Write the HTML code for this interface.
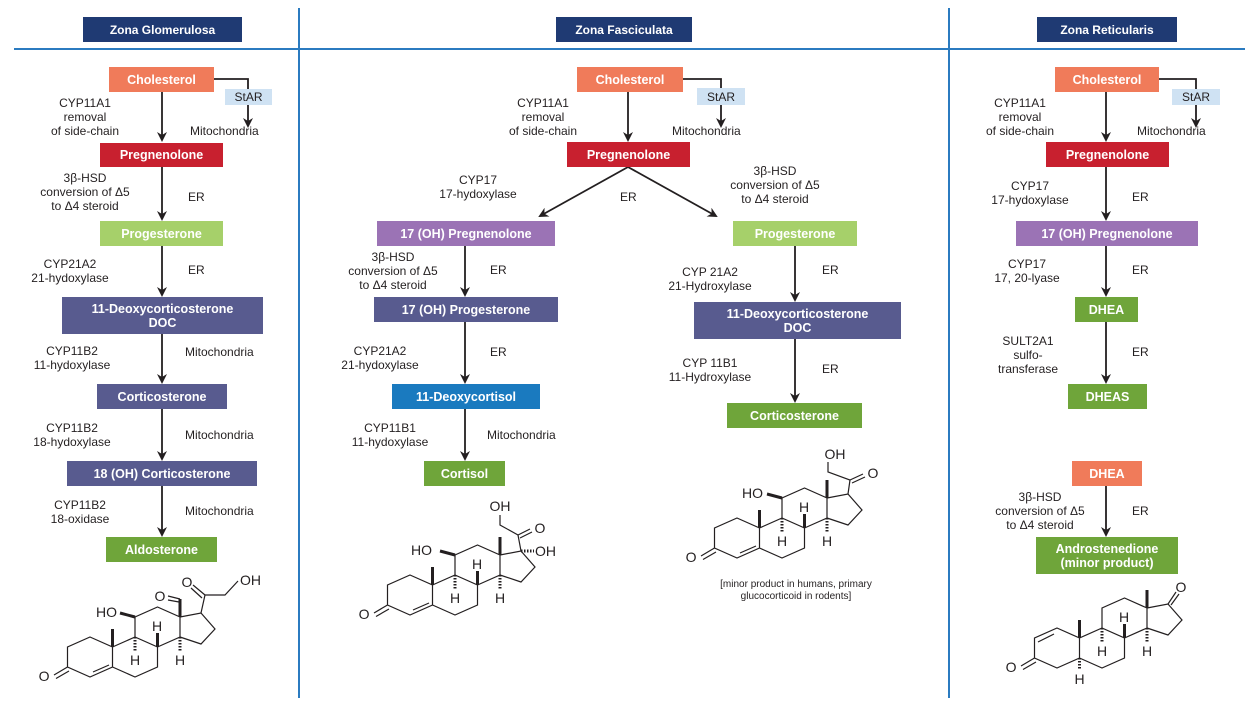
<!DOCTYPE html>
<html><head><meta charset="utf-8"><style>
body{margin:0;background:#fff;}
#c{position:relative;width:1259px;height:708px;overflow:hidden;font-family:"Liberation Sans",sans-serif;color:#231f20;}
.b{position:absolute;color:#fff;font-weight:bold;font-size:12.5px;display:flex;align-items:center;justify-content:center;text-align:center;line-height:14px;}
.h{background:#1f3a73;font-size:12px;}
.ch{background:#f07b5a}.pr{background:#c8202f}.pg{background:#a6d06a}.sl{background:#585b8f}.gr{background:#6fa53a}.pu{background:#9b73b5}.bl{background:#1a7abf}
.st{position:absolute;background:#cfe2f3;color:#231f20;font-size:12px;display:flex;align-items:center;justify-content:center;}
.l{position:absolute;font-size:12px;line-height:14px;text-align:center;white-space:nowrap;transform:translateX(-50%);}
.e{position:absolute;font-size:12px;line-height:14px;white-space:nowrap;}
svg{position:absolute;left:0;top:0;}
</style></head><body><div id="c">
<svg width="1259" height="708">
<defs>
<marker id="a" markerWidth="10" markerHeight="10" refX="8" refY="5" orient="auto" markerUnits="userSpaceOnUse"><path d="M0,0 L10,5 L0,10 L3,5 Z" fill="#231f20"/></marker>
<g id="core" fill="none" stroke="#231f20" stroke-width="1.2">
<path d="M0,-20 L22.5,-10 L22.5,10 L0,20 L-22.5,10 L-22.5,-10 Z"/>
<path d="M22.5,10 L45,20 L67.5,10 L67.5,-10 L45,-20 L22.5,-10"/>
<path d="M45,-20 L45,-40 L67.5,-50 L90,-40 L90,-20 L67.5,-10"/>
<path d="M90,-40 L111,-44 L125,-28 L111,-13 L90,-20"/>
<path d="M-22.5,10 L-36,18 M-21,14 L-34,21.5"/>
<path d="M22.5,-10 L22.5,-28" stroke-width="3"/>
<path d="M90,-40 L90,-58" stroke-width="3"/>
<path d="M67.5,-10 L67.5,-24" stroke-width="3"/>
<path d="M45,-20 L45,-6 M90,-20 L90,-6" stroke-dasharray="1.5,1.5" stroke-width="3"/>
</g>
<g id="h3" font-family="Liberation Sans" font-size="14" fill="#231f20" text-anchor="middle">
<text x="-46" y="24">O</text>
<text x="45" y="8">H</text><text x="67" y="-26">H</text><text x="90" y="8">H</text>
</g>
</defs>
<line x1="14" y1="49" x2="1245" y2="49" stroke="#2b7bc0" stroke-width="2"/>
<line x1="299" y1="8" x2="299" y2="698" stroke="#2b7bc0" stroke-width="2"/>
<line x1="949" y1="8" x2="949" y2="698" stroke="#2b7bc0" stroke-width="2"/>
<g stroke="#231f20" stroke-width="1.8" fill="none" marker-end="url(#a)">
<line x1="162" y1="92" x2="162" y2="140"/><line x1="162" y1="167" x2="162" y2="219"/><line x1="162" y1="246" x2="162" y2="295"/><line x1="162" y1="334" x2="162" y2="382"/><line x1="162" y1="409" x2="162" y2="459"/><line x1="162" y1="486" x2="162" y2="535"/>
<path d="M214,79 H248 V126"/>
<line x1="628" y1="92" x2="628" y2="140"/><path d="M683,79 H721 V126"/>
<line x1="628" y1="167" x2="540" y2="216"/><line x1="628" y1="167" x2="716" y2="216"/>
<line x1="465" y1="246" x2="465" y2="295"/><line x1="465" y1="322" x2="465" y2="382"/><line x1="465" y1="409" x2="465" y2="459"/>
<line x1="795" y1="246" x2="795" y2="300"/><line x1="795" y1="339" x2="795" y2="401"/>
<line x1="1106" y1="92" x2="1106" y2="140"/><path d="M1159,79 H1196 V126"/>
<line x1="1106" y1="167" x2="1106" y2="219"/><line x1="1106" y1="246" x2="1106" y2="295"/><line x1="1106" y1="322" x2="1106" y2="382"/><line x1="1106" y1="486" x2="1106" y2="535"/>
</g>

<!-- Aldosterone -->
<g transform="translate(90,657)">
<use href="#core"/><use href="#h3"/>
<g fill="none" stroke="#231f20" stroke-width="1.2">
<path d="M3,15 L19,8"/>
<path d="M45,-40 L30,-44" stroke-width="3"/>
<path d="M90,-58 L78,-61 M89,-55 L78,-57"/>
<path d="M111,-44 L115,-62 L135,-62 L148,-76"/>
<path d="M115,-62 L103,-72 M112,-59 L101,-69"/>
</g>
<g font-family="Liberation Sans" font-size="14" fill="#231f20">
<text x="27" y="-40" text-anchor="end">HO</text>
<text x="70" y="-56" text-anchor="middle">O</text>
<text x="97" y="-70" text-anchor="middle">O</text>
<text x="150" y="-72">OH</text>
</g>
</g>

<!-- Cortisol -->
<g transform="translate(410,595)">
<use href="#core"/><use href="#h3"/>
<g fill="none" stroke="#231f20" stroke-width="1.2">
<path d="M3,15 L19,8"/>
<path d="M45,-40 L30,-44" stroke-width="3"/>
<path d="M111,-44 L108,-60 L90,-70 L90,-80"/>
<path d="M108,-60 L120,-66 M110,-57 L122,-63"/>
<path d="M111,-44 L124,-44" stroke-dasharray="1.5,1.5" stroke-width="3"/>
</g>
<g font-family="Liberation Sans" font-size="14" fill="#231f20">
<text x="22" y="-40" text-anchor="end">HO</text>
<text x="90" y="-84" text-anchor="middle">OH</text>
<text x="130" y="-62" text-anchor="middle">O</text>
<text x="125" y="-39">OH</text>
</g>
</g>

<!-- Corticosterone -->
<g transform="translate(737,538)">
<use href="#core"/><use href="#h3"/>
<g fill="none" stroke="#231f20" stroke-width="1.2">
<path d="M3,15 L19,8"/>
<path d="M45,-40 L30,-44" stroke-width="3"/>
<path d="M111,-44 L113,-58 L91,-66 L91,-76"/>
<path d="M113,-58 L126,-64 M115,-55 L128,-61"/>
</g>
<g font-family="Liberation Sans" font-size="14" fill="#231f20">
<text x="26" y="-40" text-anchor="end">HO</text>
<text x="98" y="-79" text-anchor="middle">OH</text>
<text x="136" y="-60" text-anchor="middle">O</text>
</g>
</g>

<!-- Androstenedione -->
<g transform="translate(1057,648)">
<use href="#core"/><use href="#h3"/>
<g fill="none" stroke="#231f20" stroke-width="1.2">
<path d="M-19,-6 L-3,-14"/>
<path d="M22.5,10 L22.5,22" stroke-dasharray="1.5,1.5" stroke-width="3"/>
<path d="M111,-44 L119,-56 M114,-43 L122,-54"/>
</g>
<g font-family="Liberation Sans" font-size="14" fill="#231f20">
<text x="22.5" y="36" text-anchor="middle">H</text>
<text x="124" y="-56" text-anchor="middle">O</text>
</g>
</g>
</svg>
<div class="b h" style="left:83px;top:17px;width:159px;height:25px">Zona Glomerulosa</div>
<div class="b h" style="left:556px;top:17px;width:136px;height:25px">Zona Fasciculata</div>
<div class="b h" style="left:1037px;top:17px;width:140px;height:25px">Zona Reticularis</div>

<div class="b ch" style="left:109px;top:67px;width:105px;height:25px">Cholesterol</div>
<div class="st" style="left:225px;top:89px;width:47px;height:16px">StAR</div>
<div class="b pr" style="left:100px;top:143px;width:123px;height:24px">Pregnenolone</div>
<div class="b pg" style="left:100px;top:221px;width:123px;height:25px">Progesterone</div>
<div class="b sl" style="left:62px;top:297px;width:201px;height:37px">11-Deoxycorticosterone<br>DOC</div>
<div class="b sl" style="left:97px;top:384px;width:130px;height:25px">Corticosterone</div>
<div class="b sl" style="left:67px;top:461px;width:190px;height:25px">18 (OH) Corticosterone</div>
<div class="b gr" style="left:106px;top:537px;width:111px;height:25px">Aldosterone</div>

<div class="l" style="left:85px;top:96px">CYP11A1<br>removal<br>of side-chain</div>
<div class="e" style="left:190px;top:124px">Mitochondria</div>
<div class="l" style="left:85px;top:171px">3β-HSD<br>conversion of Δ5<br>to Δ4 steroid</div>
<div class="e" style="left:188px;top:190px">ER</div>
<div class="l" style="left:70px;top:257px">CYP21A2<br>21-hydoxylase</div>
<div class="e" style="left:188px;top:263px">ER</div>
<div class="l" style="left:72px;top:344px">CYP11B2<br>11-hydoxylase</div>
<div class="e" style="left:185px;top:345px">Mitochondria</div>
<div class="l" style="left:72px;top:421px">CYP11B2<br>18-hydoxylase</div>
<div class="e" style="left:185px;top:428px">Mitochondria</div>
<div class="l" style="left:80px;top:498px">CYP11B2<br>18-oxidase</div>
<div class="e" style="left:185px;top:504px">Mitochondria</div>

<div class="b ch" style="left:577px;top:67px;width:106px;height:25px">Cholesterol</div>
<div class="st" style="left:697px;top:88px;width:48px;height:17px">StAR</div>
<div class="b pr" style="left:567px;top:142px;width:123px;height:25px">Pregnenolone</div>
<div class="b pu" style="left:377px;top:221px;width:178px;height:25px">17 (OH) Pregnenolone</div>
<div class="b pg" style="left:733px;top:221px;width:124px;height:25px">Progesterone</div>
<div class="b sl" style="left:374px;top:297px;width:184px;height:25px">17 (OH) Progesterone</div>
<div class="b bl" style="left:392px;top:384px;width:148px;height:25px">11-Deoxycortisol</div>
<div class="b gr" style="left:424px;top:461px;width:81px;height:25px">Cortisol</div>
<div class="b sl" style="left:694px;top:302px;width:207px;height:37px">11-Deoxycorticosterone<br>DOC</div>
<div class="b gr" style="left:727px;top:403px;width:135px;height:25px">Corticosterone</div>

<div class="l" style="left:543px;top:96px">CYP11A1<br>removal<br>of side-chain</div>
<div class="e" style="left:672px;top:124px">Mitochondria</div>
<div class="l" style="left:478px;top:173px">CYP17<br>17-hydoxylase</div>
<div class="e" style="left:620px;top:190px">ER</div>
<div class="l" style="left:775px;top:164px">3β-HSD<br>conversion of Δ5<br>to Δ4 steroid</div>
<div class="l" style="left:393px;top:250px">3β-HSD<br>conversion of Δ5<br>to Δ4 steroid</div>
<div class="e" style="left:490px;top:263px">ER</div>
<div class="l" style="left:380px;top:344px">CYP21A2<br>21-hydoxylase</div>
<div class="e" style="left:490px;top:345px">ER</div>
<div class="l" style="left:390px;top:421px">CYP11B1<br>11-hydoxylase</div>
<div class="e" style="left:487px;top:428px">Mitochondria</div>
<div class="l" style="left:710px;top:265px">CYP 21A2<br>21-Hydroxylase</div>
<div class="e" style="left:822px;top:263px">ER</div>
<div class="l" style="left:710px;top:356px">CYP 11B1<br>11-Hydroxylase</div>
<div class="e" style="left:822px;top:362px">ER</div>
<div class="l" style="left:796px;top:579px;font-size:10px;line-height:12px">[minor product in humans, primary<br>glucocorticoid in rodents]</div>

<div class="b ch" style="left:1055px;top:67px;width:104px;height:25px">Cholesterol</div>
<div class="st" style="left:1172px;top:89px;width:48px;height:16px">StAR</div>
<div class="b pr" style="left:1046px;top:142px;width:123px;height:25px">Pregnenolone</div>
<div class="b pu" style="left:1016px;top:221px;width:182px;height:25px">17 (OH) Pregnenolone</div>
<div class="b gr" style="left:1075px;top:297px;width:63px;height:25px">DHEA</div>
<div class="b gr" style="left:1068px;top:384px;width:79px;height:25px">DHEAS</div>
<div class="b ch" style="left:1072px;top:461px;width:70px;height:25px">DHEA</div>
<div class="b gr" style="left:1036px;top:537px;width:142px;height:37px">Androstenedione<br>(minor product)</div>

<div class="l" style="left:1020px;top:96px">CYP11A1<br>removal<br>of side-chain</div>
<div class="e" style="left:1137px;top:124px">Mitochondria</div>
<div class="l" style="left:1030px;top:179px">CYP17<br>17-hydoxylase</div>
<div class="e" style="left:1132px;top:190px">ER</div>
<div class="l" style="left:1027px;top:257px">CYP17<br>17, 20-lyase</div>
<div class="e" style="left:1132px;top:263px">ER</div>
<div class="l" style="left:1028px;top:334px">SULT2A1<br>sulfo-<br>transferase</div>
<div class="e" style="left:1132px;top:345px">ER</div>
<div class="l" style="left:1040px;top:490px">3β-HSD<br>conversion of Δ5<br>to Δ4 steroid</div>
<div class="e" style="left:1132px;top:504px">ER</div>
</div></body></html>
